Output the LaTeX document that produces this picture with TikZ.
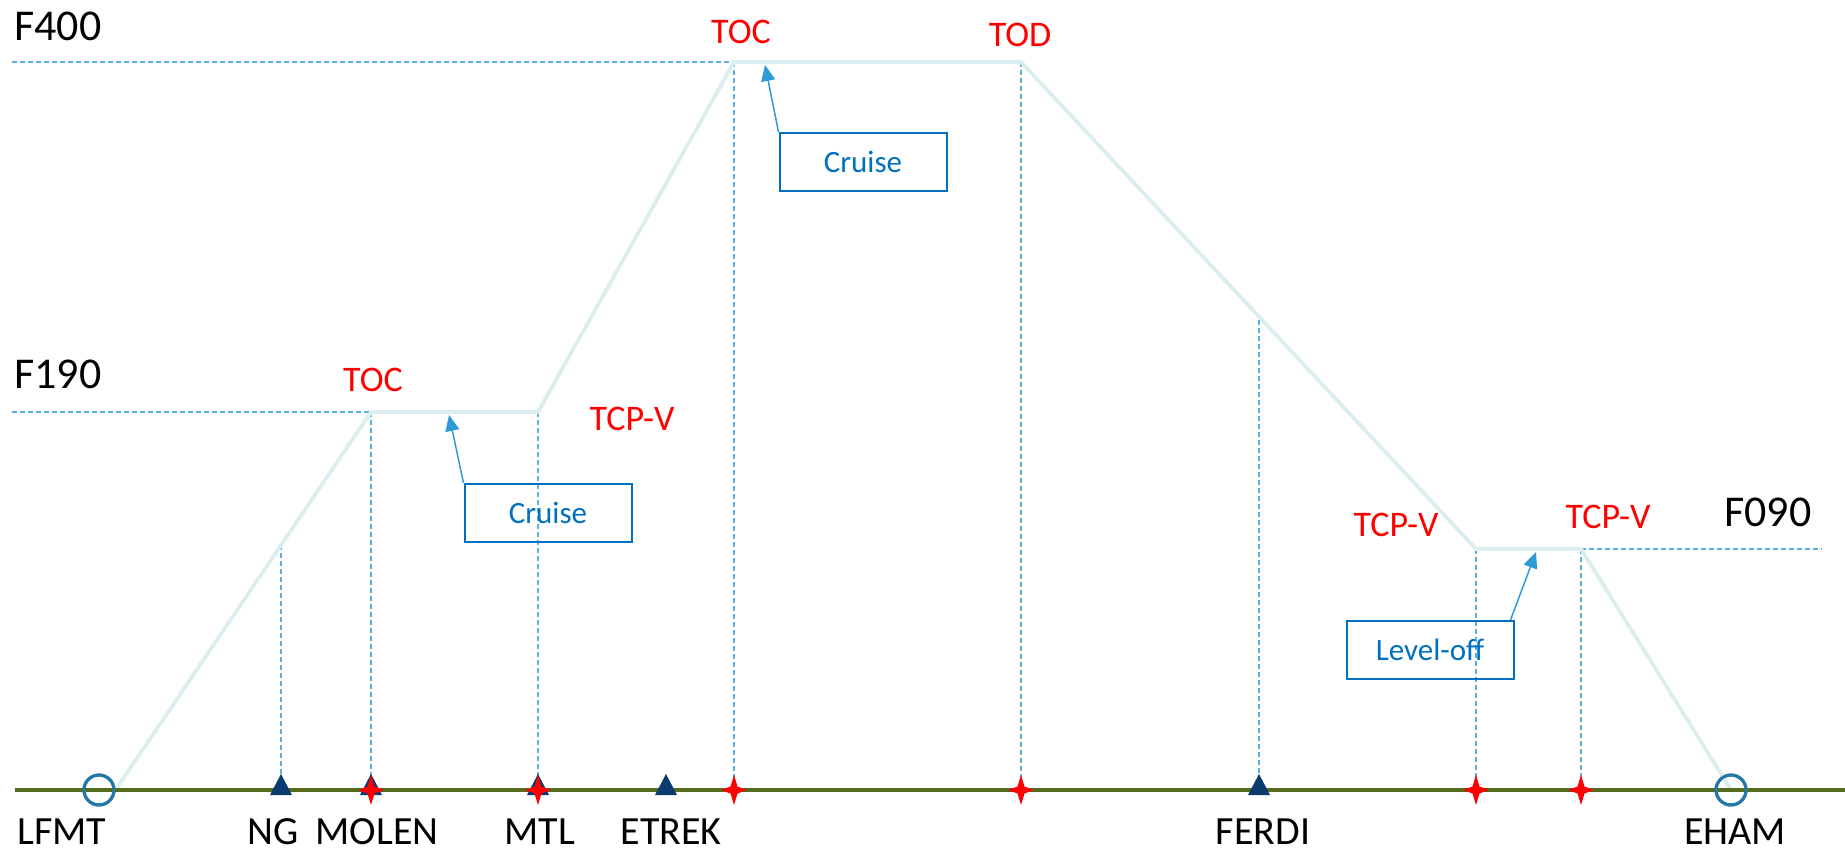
\documentclass[tikz,border=0pt]{standalone}
\usepackage{fontspec}
\setmainfont{Carlito}
\usetikzlibrary{arrows.meta}
\definecolor{profil}{HTML}{DAEEF0}
\definecolor{groundgreen}{HTML}{556B1E}
\definecolor{aptblue}{HTML}{2378A8}
\definecolor{navaid}{HTML}{0A3A6E}
\definecolor{dashblue}{HTML}{5BB0E3}
\definecolor{boxblue}{HTML}{0070C0}
\definecolor{arrowblue}{HTML}{2E9BD6}
\newcommand{\navtri}[1]{\fill[navaid,shift={(#1)}] (-11,5)--(11,5)--(0,-16)--cycle;}
\newcommand{\wpstar}[1]{\fill[red,shift={(#1)}] (0,-15)--(3.5,-3.5)--(13,0)--(3.5,3.5)--(0,15)--(-3.5,3.5)--(-13,0)--(-3.5,-3.5)--cycle;}
\tikzset{
  guide/.style={draw=dashblue, line width=0.6pt, dash pattern=on 2.5pt off 1.5pt},
  profile/.style={draw=profil, line width=1.9pt},
  ground/.style={draw=groundgreen, line width=1.8pt},
  apt/.style={circle, draw=aptblue, line width=1.5pt, minimum size=15pt, inner sep=0pt},
  lvltext/.style={font=\fontsize{22}{26}\selectfont, inner sep=0pt},
  wptext/.style={font=\fontsize{20}{24}\selectfont, inner sep=0pt},
  evtext/.style={text=red, font=\fontsize{18}{22}\selectfont, inner sep=0pt},
  phasebox/.style={draw=boxblue, line width=1pt, text=boxblue, font=\fontsize{15.5}{18}\selectfont,
    minimum width=83.5pt, minimum height=29pt, inner sep=0pt},
  callout/.style={draw=arrowblue, line width=0.75pt, -{Triangle[length=8pt,width=7pt]}}
}
\begin{document}
\begin{tikzpicture}[x=0.5pt,y=-0.5pt]
\useasboundingbox (0,0) rectangle (1845,854);
% ground points
\node[apt] (lfmt) at (99,790) {}; \node[apt] (eham) at (1731,790) {};
\coordinate (gw) at (15,790); \coordinate (ge) at (1845,790);
\coordinate (ng) at (281,790); \coordinate (molen) at (371,790);
\coordinate (mtl) at (538,790); \coordinate (etrek) at (666,790);
\coordinate (s1) at (734,790); \coordinate (s2) at (1021,790);
\coordinate (ferdi) at (1259,790);
\coordinate (s3) at (1476,790); \coordinate (s4) at (1581,790);
% profile points
\coordinate (toc1) at (371,412); \coordinate (tcp1) at (538,412);
\coordinate (toc2) at (734,62); \coordinate (tod) at (1021,62);
\coordinate (tcp2) at (1476,549); \coordinate (tcp3) at (1581,549);
\coordinate (ngtop) at (281,545); \coordinate (ferditop) at (1259,320);
\coordinate (f400) at (12,62); \coordinate (f190) at (12,412); \coordinate (f090) at (1822,549);

\draw[guide] (f400)--(toc2); \draw[guide] (f190)--(toc1); \draw[guide] (tcp3)--(f090);
\draw[guide] (ngtop)--(ng); \draw[guide] (toc1)--(molen); \draw[guide] (tcp1)--(mtl);
\draw[guide] (toc2)--(s1); \draw[guide] (tod)--(s2); \draw[guide] (ferditop)--(ferdi);
\draw[guide] (tcp2)--(s3); \draw[guide] (tcp3)--(s4);

\draw[profile] (lfmt.east)--(toc1)--(tcp1)--(toc2)--(tod)--(tcp2)--(tcp3)--(eham.center);
\draw[ground] (gw)--(ge);
\node[apt] at (lfmt) {}; \node[apt] at (eham) {};

\navtri{ng} \navtri{molen} \navtri{mtl} \navtri{etrek} \navtri{ferdi}
\wpstar{molen} \wpstar{mtl} \wpstar{s1} \wpstar{s2} \wpstar{s3} \wpstar{s4}

\node[lvltext,anchor=west] (lf400) at (14,26) {F400};
\node[lvltext,anchor=west] (lf190) at (14,374) {F190};
\node[lvltext] (lf090) at (1768,512) {F090};

\node[evtext] (etoc1) at (373,380) {TOC};
\node[evtext] (etcp1) at (632,419) {TCP-V};
\node[evtext] (etoc2) at (741,32) {TOC};
\node[evtext] (etod) at (1020,35) {TOD};
\node[evtext] (etcp2) at (1396,525) {TCP-V};
\node[evtext] (etcp3) at (1608,517) {TCP-V};

\node[wptext] (llfmt) at (62,832) {LFMT};
\node[wptext] (lng) at (273,832) {NG};
\node[wptext] (lmolen) at (377,832) {MOLEN};
\node[wptext] (lmtl) at (540,832) {MTL};
\node[wptext] (letrek) at (671,832) {ETREK};
\node[wptext] (lferdi) at (1263,832) {FERDI};
\node[wptext] (leham) at (1735,832) {EHAM};

\node[phasebox] (cr1) at (548,513) {Cruise};
\node[phasebox] (cr2) at (863,162) {Cruise};
\node[phasebox] (lvl) at (1430,650) {Level-off};
\coordinate (tip1) at (449,415); \coordinate (tip2) at (765,65); \coordinate (tip3) at (1536,552);
\draw[callout] (cr1.north west)--(tip1);
\draw[callout] (cr2.north west)--(tip2);
\draw[callout] ([xshift=-2pt]lvl.north east)--(tip3);
\end{tikzpicture}
\end{document}
